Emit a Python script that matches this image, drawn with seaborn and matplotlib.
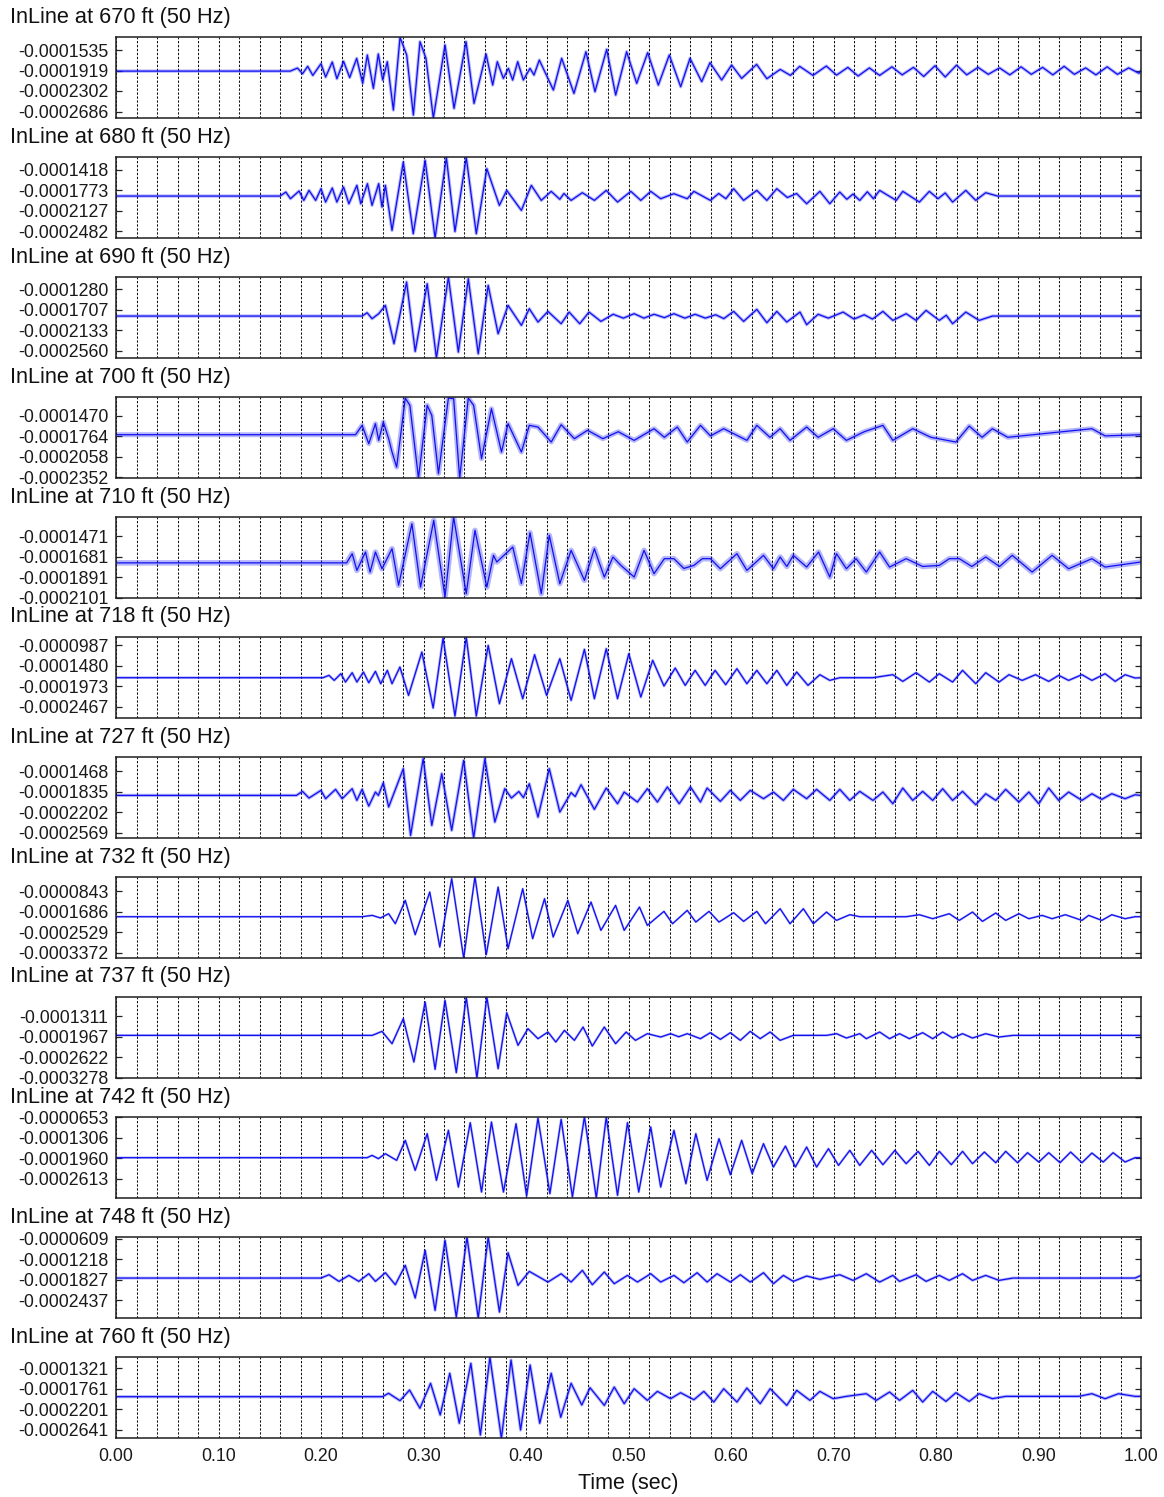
import numpy as np
import pandas as pd
import matplotlib
matplotlib.use("Agg")
import matplotlib.pyplot as plt
from matplotlib.ticker import MultipleLocator, FixedLocator, FixedFormatter
import seaborn as sns

# ---------------------------------------------------------------------------
# Receiver depths along the in-line profile
depths = [670, 680, 690, 700, 710, 718, 727, 732, 737, 742, 748, 760]

# Trace extrema: (time in s, amplitude in micro-units, i.e. x 1e-6)
trace_670 = [
    (0.000, -193.0), (0.170, -193.0), (0.177, -187.3), (0.182, -197.9), (0.187, -184.1),
    (0.192, -201.0), (0.200, -179.1), (0.2045, -204.1), (0.211, -176.0), (0.2155, -207.2),
    (0.222, -174.8), (0.228, -205.0), (0.2348, -169.1), (0.2407, -215.9), (0.2452, -162.9),
    (0.2511, -225.3), (0.2559, -161.0), (0.2602, -209.7), (0.2647, -175.4), (0.2706, -265.9),
    (0.2771, -129.8), (0.2836, -162.9), (0.2901, -275.2), (0.2966, -137.9), (0.3024, -169.1),
    (0.3096, -281.0), (0.3210, -144.2), (0.3298, -262.7), (0.3415, -137.9), (0.3493, -253.4),
    (0.3610, -161.0), (0.3675, -219.1), (0.3720, -175.4), (0.3779, -206.6), (0.3828, -187.9),
    (0.3870, -209.7), (0.3919, -175.4), (0.3974, -209.7), (0.4039, -187.9), (0.4078, -200.3),
    (0.4130, -172.3), (0.4267, -228.4), (0.4348, -169.1), (0.4468, -234.7), (0.4585, -156.7),
    (0.4673, -231.5), (0.4787, -152.3), (0.4875, -237.8), (0.4982, -156.7), (0.5080, -215.9),
    (0.5187, -158.5), (0.5291, -219.1), (0.5398, -162.9), (0.5509, -222.2), (0.5600, -169.1),
    (0.5714, -212.8), (0.5795, -177.3), (0.5909, -209.7), (0.6006, -181.6), (0.6104, -206.6),
    (0.625, -180.4), (0.635, -207.2), (0.648, -189.8), (0.658, -201.0), (0.667, -184.1),
    (0.680, -201.0), (0.693, -183.5), (0.703, -200.5), (0.714, -186.0), (0.724, -202.2),
    (0.735, -187.0), (0.745, -201.0), (0.757, -185.0), (0.767, -200.0), (0.778, -186.0),
    (0.788, -203.0), (0.799, -183.0), (0.809, -204.0), (0.820, -181.8), (0.830, -200.0),
    (0.841, -186.0), (0.851, -199.0), (0.862, -187.0), (0.872, -200.0), (0.883, -185.0),
    (0.893, -199.0), (0.904, -186.0), (0.914, -200.0), (0.925, -184.0), (0.935, -199.0),
    (0.946, -187.0), (0.956, -200.0), (0.967, -185.0), (0.977, -199.0), (0.988, -187.0),
    (0.998, -197.0), (1.000, -192.0),
]

trace_680 = [
    (0.000, -187.4), (0.160, -187.4), (0.1657, -180.5), (0.1702, -192.0), (0.1786, -178.7),
    (0.1832, -194.9), (0.1883, -177.6), (0.1948, -194.9), (0.2000, -174.7), (0.2045, -197.8),
    (0.2110, -173.5), (0.2155, -197.8), (0.2220, -171.8), (0.2272, -200.7), (0.2350, -168.9),
    (0.2388, -200.7), (0.2453, -166.0), (0.2498, -203.5), (0.2563, -166.0), (0.2595, -206.4),
    (0.2628, -168.9), (0.2693, -246.8), (0.2803, -128.5), (0.2900, -252.6), (0.3016, -125.6),
    (0.3113, -260.1), (0.3223, -120.5), (0.3307, -248.8), (0.3417, -120.5), (0.3515, -252.6),
    (0.3618, -140.1), (0.3740, -203.5), (0.3812, -177.6), (0.3955, -212.2), (0.4052, -168.9),
    (0.4149, -194.9), (0.4246, -179.3), (0.4330, -193.0), (0.4370, -183.0), (0.4440, -194.9),
    (0.4550, -181.6), (0.4667, -194.9), (0.4783, -177.6), (0.4893, -197.8), (0.5023, -179.3),
    (0.5120, -194.9), (0.5217, -179.3), (0.5314, -192.0), (0.5443, -183.3), (0.5573, -192.0),
    (0.5638, -179.3), (0.5799, -194.9), (0.5880, -183.0), (0.5950, -192.0), (0.6026, -174.7),
    (0.6123, -194.9), (0.6252, -177.6), (0.6350, -194.9), (0.6447, -174.7), (0.6550, -190.0),
    (0.6640, -183.0), (0.6738, -200.7), (0.6867, -179.3), (0.6964, -200.7), (0.7061, -180.5),
    (0.7130, -193.0), (0.7190, -184.0), (0.7256, -194.9), (0.7330, -180.0), (0.7390, -192.0),
    (0.7450, -177.6), (0.7612, -194.9), (0.7676, -179.3), (0.7838, -197.8), (0.7935, -179.3),
    (0.8020, -192.0), (0.8090, -182.0), (0.8162, -197.8), (0.8291, -177.6), (0.8388, -194.9),
    (0.8485, -181.6), (0.8600, -187.4), (1.000, -187.4),
]

trace_690 = [
    (0.000, -183.7), (0.2401, -183.7), (0.2450, -176.8), (0.2498, -189.2), (0.2563, -178.8),
    (0.2628, -161.5), (0.2712, -241.3), (0.2835, -112.9), (0.2919, -257.3), (0.3036, -116.4),
    (0.3126, -271.1), (0.3243, -102.5), (0.3340, -258.6), (0.3437, -106.0), (0.3534, -262.1),
    (0.3631, -119.8), (0.3728, -220.5), (0.3825, -161.5), (0.3955, -203.1), (0.4032, -168.4),
    (0.4117, -196.2), (0.4214, -174.0), (0.4343, -199.7), (0.4421, -175.4), (0.4524, -199.7),
    (0.4615, -175.4), (0.4731, -194.8), (0.4850, -180.0), (0.4950, -188.0), (0.5055, -178.8),
    (0.5150, -188.0), (0.5250, -180.0), (0.5350, -187.0), (0.5443, -178.8), (0.5550, -188.0),
    (0.5650, -180.0), (0.5750, -188.0), (0.5850, -181.0), (0.5930, -189.0), (0.6026, -174.0),
    (0.6123, -194.8), (0.6252, -169.8), (0.6350, -197.6), (0.6447, -174.0), (0.6544, -196.2),
    (0.6673, -175.4), (0.6738, -201.7), (0.6850, -180.0), (0.6950, -188.0), (0.7094, -175.4),
    (0.7200, -190.0), (0.7300, -181.0), (0.7380, -190.0), (0.7482, -174.0), (0.7579, -192.7),
    (0.7709, -178.8), (0.7806, -192.7), (0.7903, -171.9), (0.8032, -192.7), (0.8100, -182.0),
    (0.8162, -199.7), (0.8291, -175.4), (0.8421, -192.7), (0.8550, -183.7), (1.000, -183.7),
]

trace_700 = [
    (0.000, -174.3), (0.2337, -174.3), (0.2401, -160.9), (0.2466, -187.2), (0.2531, -158.5),
    (0.2563, -182.4), (0.2608, -156.1), (0.2660, -180.0), (0.2693, -199.1), (0.2738, -220.7),
    (0.2822, -121.7), (0.2867, -132.2), (0.2951, -236.5), (0.3036, -132.2), (0.3081, -146.6),
    (0.3146, -230.0), (0.3243, -121.7), (0.3294, -122.7), (0.3353, -236.5), (0.3437, -121.7),
    (0.3489, -132.2), (0.3566, -208.7), (0.3663, -137.0), (0.3761, -199.1), (0.3825, -158.5),
    (0.3955, -199.1), (0.4032, -160.9), (0.4117, -163.3), (0.4246, -184.8), (0.4343, -160.0),
    (0.4472, -180.0), (0.4600, -168.0), (0.4750, -180.0), (0.4900, -170.0), (0.5055, -182.4),
    (0.5249, -165.7), (0.5350, -178.0), (0.5476, -163.3), (0.5573, -184.8), (0.5702, -160.9),
    (0.5800, -176.0), (0.5929, -165.7), (0.6155, -182.4), (0.6252, -160.9), (0.6380, -178.0),
    (0.6479, -165.7), (0.6576, -182.4), (0.6738, -163.3), (0.6850, -178.0), (0.6997, -165.7),
    (0.7126, -182.4), (0.7300, -170.0), (0.7482, -160.9), (0.7579, -182.4), (0.7773, -165.7),
    (0.7950, -178.0), (0.8194, -184.8), (0.8324, -161.9), (0.8450, -178.0), (0.8550, -165.7),
    (0.8700, -178.0), (0.9521, -165.7), (0.9650, -176.0), (1.000, -174.3),
]

trace_710 = [
    (0.000, -174.3), (0.2250, -174.3), (0.2304, -164.9), (0.2350, -182.0), (0.2434, -163.2),
    (0.2479, -183.7), (0.2531, -163.2), (0.2595, -180.3), (0.2693, -159.8), (0.2757, -197.3),
    (0.2887, -134.2), (0.2971, -199.1), (0.3100, -130.8), (0.3210, -209.3), (0.3294, -127.3),
    (0.3417, -205.9), (0.3502, -141.0), (0.3618, -199.1), (0.3683, -166.6), (0.3715, -173.4),
    (0.3871, -158.1), (0.3955, -195.6), (0.4039, -143.4), (0.4149, -205.9), (0.4227, -146.1),
    (0.4330, -195.6), (0.4440, -161.5), (0.4570, -192.2), (0.4667, -159.8), (0.4764, -188.8),
    (0.4848, -168.3), (0.4926, -176.9), (0.5055, -188.8), (0.5152, -161.5), (0.5249, -185.4),
    (0.5350, -170.0), (0.5443, -170.0), (0.5540, -180.0), (0.5638, -176.9), (0.5720, -170.0),
    (0.5799, -170.0), (0.5896, -180.3), (0.6058, -164.9), (0.6155, -182.0), (0.6317, -166.6),
    (0.6414, -180.3), (0.6479, -168.3), (0.6545, -178.0), (0.6608, -166.6), (0.6738, -178.6),
    (0.6854, -163.2), (0.6964, -188.8), (0.7029, -164.9), (0.7126, -180.3), (0.7220, -170.0),
    (0.7320, -183.7), (0.7450, -163.2), (0.7547, -178.6), (0.7709, -170.0), (0.7870, -178.0),
    (0.8032, -176.9), (0.8130, -170.0), (0.8227, -170.0), (0.8350, -178.0), (0.8485, -168.3),
    (0.8620, -178.0), (0.8744, -166.6), (0.8938, -183.7), (0.9133, -166.6), (0.9294, -180.3),
    (0.9521, -170.0), (0.9650, -178.6), (1.000, -173.4),
]

trace_718 = [
    (0.000, -176.6), (0.2020, -176.6), (0.2078, -171.0), (0.2129, -183.1), (0.2194, -167.0),
    (0.2239, -187.1), (0.2304, -164.6), (0.2350, -187.1), (0.2414, -163.0), (0.2466, -188.7),
    (0.2531, -161.4), (0.2583, -191.1), (0.2647, -159.0), (0.2693, -191.1), (0.2770, -151.0),
    (0.2854, -219.2), (0.2984, -114.9), (0.3094, -249.6), (0.3191, -81.2), (0.3307, -268.9),
    (0.3417, -78.8), (0.3515, -268.9), (0.3631, -98.9), (0.3741, -239.2), (0.3858, -130.9),
    (0.3968, -227.2), (0.4084, -121.3), (0.4201, -219.2), (0.4330, -130.9), (0.4440, -231.2),
    (0.4570, -108.5), (0.4667, -227.2), (0.4783, -106.9), (0.4893, -227.2), (0.5003, -118.9),
    (0.5120, -223.2), (0.5236, -134.9), (0.5346, -196.7), (0.5456, -153.4), (0.5553, -195.1),
    (0.5650, -159.0), (0.5748, -195.1), (0.5845, -159.0), (0.5948, -193.5), (0.6058, -155.0),
    (0.6155, -191.1), (0.6252, -159.0), (0.6350, -191.1), (0.6447, -159.0), (0.6544, -195.1),
    (0.6641, -163.0), (0.6751, -195.1), (0.6867, -169.4), (0.6964, -183.1), (0.7061, -176.6),
    (0.7385, -176.6), (0.7579, -169.4), (0.7676, -185.5), (0.7806, -164.6), (0.7935, -187.1),
    (0.8032, -167.0), (0.8162, -187.1), (0.8259, -159.0), (0.8388, -191.1), (0.8485, -164.6),
    (0.8615, -187.1), (0.8712, -169.4), (0.8841, -183.1), (0.8971, -169.4), (0.9100, -185.5),
    (0.9197, -171.0), (0.9294, -183.1), (0.9424, -169.4), (0.9521, -183.1), (0.9650, -167.0),
    (0.9748, -185.5), (0.9845, -169.4), (0.9942, -177.4), (1.000, -176.6),
]

trace_727 = [
    (0.000, -190.0), (0.1760, -190.0), (0.1819, -182.8), (0.1883, -194.7), (0.2000, -181.0),
    (0.2045, -195.9), (0.2142, -179.2), (0.2207, -195.9), (0.2304, -178.0), (0.2350, -198.9),
    (0.2401, -179.2), (0.2466, -209.1), (0.2531, -184.0), (0.2560, -190.0), (0.2608, -167.3),
    (0.2660, -210.8), (0.2803, -142.2), (0.2874, -261.6), (0.2997, -124.3), (0.3081, -243.7),
    (0.3178, -151.1), (0.3275, -252.6), (0.3392, -127.3), (0.3489, -266.4), (0.3599, -124.3),
    (0.3696, -237.7), (0.3793, -178.0), (0.3858, -194.7), (0.3930, -183.0), (0.3975, -194.0),
    (0.4032, -169.1), (0.4117, -228.8), (0.4227, -142.2), (0.4330, -219.8), (0.4440, -185.0),
    (0.4480, -192.0), (0.4537, -170.9), (0.4667, -215.0), (0.4783, -176.8), (0.4893, -204.9),
    (0.4958, -184.0), (0.5087, -201.9), (0.5184, -178.0), (0.5282, -201.9), (0.5379, -175.0),
    (0.5495, -204.9), (0.5605, -175.0), (0.5702, -201.9), (0.5767, -176.8), (0.5896, -200.7),
    (0.5994, -181.0), (0.6091, -198.9), (0.6188, -181.0), (0.6317, -195.9), (0.6414, -184.0),
    (0.6511, -198.9), (0.6608, -179.2), (0.6738, -195.9), (0.6835, -179.2), (0.6964, -198.9),
    (0.7061, -179.2), (0.7159, -198.9), (0.7256, -182.8), (0.7385, -198.9), (0.7482, -184.0),
    (0.7579, -204.9), (0.7676, -176.8), (0.7773, -198.9), (0.7870, -182.8), (0.7968, -198.9),
    (0.8065, -178.0), (0.8162, -198.9), (0.8259, -182.8), (0.8388, -206.7), (0.8485, -187.0),
    (0.8583, -198.9), (0.8680, -179.2), (0.8809, -201.9), (0.8906, -184.0), (0.9003, -204.9),
    (0.9100, -176.8), (0.9197, -198.9), (0.9294, -184.0), (0.9424, -198.9), (0.9521, -187.0),
    (0.9618, -197.1), (0.9715, -187.0), (0.9845, -195.9), (0.9942, -188.8), (1.000, -190.0),
]

trace_732 = [
    (0.000, -188.8), (0.2401, -188.8), (0.2500, -183.3), (0.2580, -194.0), (0.2660, -176.5),
    (0.2725, -217.6), (0.2822, -121.6), (0.2919, -262.9), (0.3061, -87.4), (0.3159, -313.6),
    (0.3275, -32.5), (0.3392, -358.8), (0.3502, -24.3), (0.3612, -345.1), (0.3728, -66.8),
    (0.3825, -320.4), (0.3968, -73.7), (0.4065, -279.3), (0.4181, -114.8), (0.4265, -272.5),
    (0.4408, -121.6), (0.4505, -258.7), (0.4634, -128.5), (0.4731, -245.0), (0.4874, -142.2),
    (0.4958, -245.0), (0.5107, -149.1), (0.5184, -224.5), (0.5346, -166.9), (0.5430, -217.6),
    (0.5573, -162.8), (0.5657, -210.8), (0.5786, -166.9), (0.5883, -210.8), (0.6026, -172.4),
    (0.6123, -208.0), (0.6252, -166.9), (0.6337, -217.6), (0.6479, -155.9), (0.6576, -217.6),
    (0.6706, -155.9), (0.6803, -217.6), (0.6932, -169.6), (0.7029, -203.9), (0.7159, -180.6),
    (0.7256, -188.8), (0.7709, -188.8), (0.7838, -180.6), (0.7968, -197.0), (0.8129, -176.5),
    (0.8227, -203.9), (0.8356, -169.6), (0.8453, -208.0), (0.8583, -173.7), (0.8680, -203.9),
    (0.8809, -176.5), (0.8906, -197.0), (0.9035, -183.3), (0.9133, -197.0), (0.9262, -180.6),
    (0.9424, -203.9), (0.9489, -183.3), (0.9618, -203.9), (0.9715, -180.6), (0.9845, -197.0),
    (0.9942, -188.8), (1.000, -188.8),
]

trace_737 = [
    (0.000, -191.5), (0.2500, -191.5), (0.2595, -178.7), (0.2693, -218.1), (0.2803, -138.2),
    (0.2906, -276.7), (0.3016, -84.9), (0.3113, -300.2), (0.3210, -79.5), (0.3320, -310.8),
    (0.3417, -68.9), (0.3521, -327.9), (0.3618, -68.9), (0.3728, -298.1), (0.3812, -119.0),
    (0.3922, -223.4), (0.4019, -170.1), (0.4117, -202.1), (0.4214, -180.8), (0.4291, -212.8),
    (0.4375, -175.5), (0.4472, -207.4), (0.4557, -164.8), (0.4647, -225.6), (0.4764, -164.8),
    (0.4874, -218.1), (0.4977, -180.8), (0.5068, -207.4), (0.5184, -186.1), (0.5314, -196.8),
    (0.5411, -186.1), (0.5490, -196.0), (0.5573, -186.1), (0.5702, -202.1), (0.5799, -182.9),
    (0.5896, -204.2), (0.5994, -182.9), (0.6091, -207.4), (0.6188, -178.7), (0.6285, -202.1),
    (0.6382, -180.8), (0.6479, -207.4), (0.6608, -191.5), (0.6932, -191.5), (0.7029, -186.1),
    (0.7126, -200.0), (0.7256, -186.1), (0.7320, -202.1), (0.7450, -180.8), (0.7547, -202.1),
    (0.7644, -186.1), (0.7741, -202.1), (0.7870, -182.9), (0.7968, -202.1), (0.8065, -180.8),
    (0.8162, -200.0), (0.8259, -186.1), (0.8356, -200.0), (0.8485, -186.1), (0.8615, -196.8),
    (0.8750, -191.5), (1.000, -191.5),
]

trace_742 = [
    (0.000, -194.9), (0.2450, -194.9), (0.2498, -187.5), (0.2560, -198.0), (0.2628, -182.2),
    (0.2738, -203.4), (0.2822, -139.7), (0.2919, -235.3), (0.3036, -118.5), (0.3126, -267.1),
    (0.3243, -107.8), (0.3340, -288.4), (0.3456, -83.4), (0.3566, -304.3), (0.3663, -81.3),
    (0.3780, -304.3), (0.3903, -86.6), (0.4006, -317.1), (0.4117, -68.5), (0.4233, -309.6),
    (0.4343, -72.8), (0.4453, -320.2), (0.4570, -64.3), (0.4686, -323.4), (0.4783, -65.4),
    (0.4893, -314.9), (0.4990, -83.4), (0.5100, -304.3), (0.5217, -97.2), (0.5314, -288.4),
    (0.5443, -107.8), (0.5560, -277.8), (0.5657, -118.5), (0.5767, -267.1), (0.5883, -134.4),
    (0.5994, -249.1), (0.6104, -139.7), (0.6207, -245.9), (0.6317, -150.3), (0.6414, -224.7),
    (0.6531, -157.8), (0.6628, -224.7), (0.6738, -160.9), (0.6835, -224.7), (0.6951, -166.3),
    (0.7049, -219.4), (0.7159, -171.6), (0.7256, -219.4), (0.7372, -171.6), (0.7482, -217.2),
    (0.7599, -171.6), (0.7709, -214.0), (0.7825, -174.7), (0.7935, -219.4), (0.8032, -174.7),
    (0.8149, -217.2), (0.8259, -174.7), (0.8356, -214.0), (0.8472, -176.9), (0.8583, -210.9),
    (0.8680, -174.7), (0.8796, -210.9), (0.8893, -179.0), (0.9003, -208.7), (0.9100, -179.0),
    (0.9210, -210.9), (0.9314, -176.9), (0.9424, -210.9), (0.9521, -180.1), (0.9631, -208.7),
    (0.9728, -179.0), (0.9845, -208.7), (0.9942, -194.9), (1.000, -194.9),
]

trace_748 = [
    (0.000, -177.9), (0.2000, -177.9), (0.2078, -168.0), (0.2175, -187.8), (0.2272, -170.0),
    (0.2369, -187.8), (0.2466, -165.0), (0.2531, -187.8), (0.2628, -162.0), (0.2725, -197.7),
    (0.2822, -140.2), (0.2919, -237.3), (0.3016, -95.6), (0.3113, -274.0), (0.3210, -65.9),
    (0.3320, -293.8), (0.3424, -56.0), (0.3534, -296.8), (0.3631, -56.0), (0.3741, -279.0),
    (0.3825, -102.6), (0.3922, -199.7), (0.4032, -158.1), (0.4214, -189.8), (0.4343, -165.0),
    (0.4440, -189.8), (0.4550, -155.1), (0.4647, -197.7), (0.4764, -160.0), (0.4861, -194.7),
    (0.4990, -170.0), (0.5087, -189.8), (0.5217, -165.0), (0.5314, -189.8), (0.5443, -170.0),
    (0.5540, -191.8), (0.5670, -162.0), (0.5767, -189.8), (0.5864, -165.0), (0.5994, -189.8),
    (0.6091, -168.0), (0.6188, -189.8), (0.6317, -162.0), (0.6414, -194.7), (0.6511, -170.0),
    (0.6608, -187.8), (0.6738, -171.9), (0.6867, -181.8), (0.7061, -168.0), (0.7191, -184.8),
    (0.7320, -165.0), (0.7450, -189.8), (0.7579, -170.0), (0.7644, -187.8), (0.7806, -168.0),
    (0.7903, -187.8), (0.8032, -170.0), (0.8129, -184.8), (0.8259, -165.0), (0.8356, -184.8),
    (0.8485, -170.0), (0.8615, -184.8), (0.8750, -177.9), (0.9942, -177.9), (1.000, -170.0),
]

trace_760 = [
    (0.000, -193.2), (0.2600, -193.2), (0.2659, -185.9), (0.2771, -201.8), (0.2864, -178.9),
    (0.2965, -218.1), (0.3069, -164.5), (0.3163, -232.5), (0.3256, -143.0), (0.3349, -250.3),
    (0.3462, -121.6), (0.3555, -275.4), (0.3648, -108.7), (0.3760, -282.5), (0.3854, -114.5),
    (0.3947, -264.7), (0.4040, -125.2), (0.4134, -250.3), (0.4246, -143.0), (0.4339, -237.4),
    (0.4440, -164.5), (0.4544, -211.1), (0.4625, -174.0), (0.4764, -211.9), (0.4861, -172.5),
    (0.4958, -208.3), (0.5055, -176.1), (0.5184, -201.1), (0.5282, -181.8), (0.5411, -197.5),
    (0.5508, -184.7), (0.5638, -199.7), (0.5735, -181.8), (0.5832, -204.7), (0.5929, -176.1),
    (0.6058, -204.7), (0.6155, -174.6), (0.6285, -208.3), (0.6382, -176.1), (0.6544, -211.9),
    (0.6641, -179.7), (0.6770, -201.1), (0.6867, -181.8), (0.6997, -197.5), (0.7126, -192.5),
    (0.7320, -186.8), (0.7417, -201.1), (0.7547, -183.2), (0.7644, -201.1), (0.7773, -179.7),
    (0.7870, -204.7), (0.7968, -181.8), (0.8097, -203.3), (0.8194, -184.7), (0.8324, -203.3),
    (0.8421, -186.8), (0.8550, -197.5), (0.8680, -192.5), (0.9392, -192.5), (0.9521, -186.8),
    (0.9650, -197.5), (0.9780, -186.8), (0.9942, -192.5), (1.000, -192.5),
]

# Y tick values per receiver (micro-units)
yticks_670 = [-153.5, -191.9, -230.2, -268.6]
yticks_680 = [-141.8, -177.3, -212.7, -248.2]
yticks_690 = [-128.0, -170.7, -213.3, -256.0]
yticks_700 = [-147.0, -176.4, -205.8, -235.2]
yticks_710 = [-147.1, -168.1, -189.1, -210.1]
yticks_718 = [-98.7, -148.0, -197.3, -246.7]
yticks_727 = [-146.8, -183.5, -220.2, -256.9]
yticks_732 = [-84.3, -168.6, -252.9, -337.2]
yticks_737 = [-131.1, -196.7, -262.2, -327.8]
yticks_742 = [-65.3, -130.6, -196.0, -261.3]
yticks_748 = [-60.9, -121.8, -182.7, -243.7]
yticks_760 = [-132.1, -176.1, -220.1, -264.1]

# X tick labels (s)
xtick_labels = ["0.00", "0.10", "0.20", "0.30", "0.40", "0.50",
                "0.60", "0.70", "0.80", "0.90", "1.00"]

traces = [trace_670, trace_680, trace_690, trace_700, trace_710, trace_718,
          trace_727, trace_732, trace_737, trace_742, trace_748, trace_760]
yticks = [yticks_670, yticks_680, yticks_690, yticks_700, yticks_710, yticks_718,
          yticks_727, yticks_732, yticks_737, yticks_742, yticks_748, yticks_760]

# ---------------------------------------------------------------------------
# Layout and style
y_ranges = [(-281.3, -128.6), (-260.5, -119.3), (-271.6, -101.8), (-236.8, -119.8),
            (-210.6, -127.0), (-274.3, -78.0), (-266.8, -120.7), (-359.8, -24.3),
            (-328.8, -67.8), (-324.3, -64.3), (-297.5, -55.0), (-282.5, -107.4)]
noise_width = [2.4, 2.4, 2.4, 3.6, 4.0, 2.0, 2.4, 1.6, 1.8, 1.8, 2.1, 2.3]

W, H = 1164, 1497
LEFT, RIGHT = 116, 1141
FIRST_TOP, PANEL_H, STEP = 36.7, 81.6, 120.0
TRACE_COLOR = "#1010f0"

sns.set_theme(style="white")
plt.rcParams["font.family"] = ["Liberation Sans", "DejaVu Sans"]
plt.rcParams["axes.unicode_minus"] = False

fig = plt.figure(figsize=(W / 100, H / 100), dpi=100)
fig.patch.set_facecolor("white")

major_x = [float(s) for s in xtick_labels]

n = len(depths)
for k, (depth, trace, ticks, yr, nw) in enumerate(zip(depths, traces, yticks, y_ranges, noise_width)):
    top_px = FIRST_TOP + STEP * k
    ax = fig.add_axes([LEFT / W, 1 - (top_px + PANEL_H) / H,
                       (RIGHT - LEFT) / W, PANEL_H / H])
    df = pd.DataFrame(trace, columns=["time", "amp"])
    df["value"] = df["amp"] * 1e-6

    # recorded noise band underneath, then the trace itself
    sns.lineplot(data=df, x="time", y="value", ax=ax, color=TRACE_COLOR,
                 linewidth=nw, alpha=0.3, estimator=None, sort=False)
    sns.lineplot(data=df, x="time", y="value", ax=ax, color=TRACE_COLOR,
                 linewidth=0.9, estimator=None, sort=False)

    ax.set_xlim(0, 1)
    ax.set_ylim(yr[0] * 1e-6, yr[1] * 1e-6)

    tick_vals = [v * 1e-6 for v in ticks]
    ax.yaxis.set_major_locator(FixedLocator(tick_vals))
    ax.yaxis.set_major_formatter(FixedFormatter([f"{v:.7f}" for v in tick_vals]))

    ax.xaxis.set_major_locator(FixedLocator(major_x))
    ax.xaxis.set_minor_locator(MultipleLocator(0.02))
    ax.grid(True, which="both", axis="x", color="#111111",
            linestyle=(0, (2.2, 1.6)), linewidth=0.75)
    ax.grid(False, axis="y")

    ax.tick_params(axis="y", which="major", direction="in", length=4.5, width=0.9,
                   left=True, right=True, labelsize=12.8, pad=5.5,
                   colors="#222222", labelcolor="#1a1a1a")
    ax.tick_params(axis="x", which="both", direction="in", length=0,
                   labelsize=12.8, pad=7, labelcolor="#1a1a1a")
    for side in ("top", "bottom", "left", "right"):
        ax.spines[side].set_visible(True)
        ax.spines[side].set_color("#1e1e1e")
        ax.spines[side].set_linewidth(1.1)

    ax.set_ylabel("")
    if k == n - 1:
        ax.xaxis.set_major_formatter(FixedFormatter(xtick_labels))
        ax.set_xlabel("Time (sec)", fontsize=15.5, labelpad=6, color="#111111")
    else:
        ax.set_xlabel("")
        ax.tick_params(axis="x", labelbottom=False)

    fig.text(10 / W, 1 - (17 + STEP * k) / H, f"InLine at {depth} ft (50 Hz)",
             fontsize=15.7, ha="left", va="center", color="#111111")

fig.savefig("out.png", dpi=100, facecolor="white")
